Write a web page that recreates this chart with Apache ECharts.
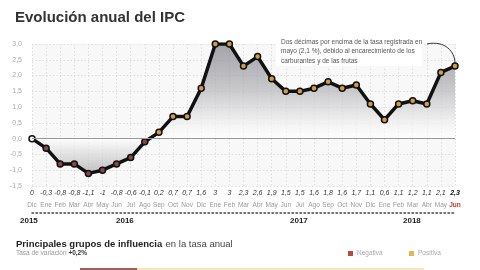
<!DOCTYPE html>
<html>
<head>
<meta charset="utf-8">
<script src="https://cdn.jsdelivr.net/npm/echarts@6/dist/echarts.min.js"></script>
<style>
html,body{margin:0;padding:0;background:#fff;}
#chart{width:480px;height:270px;}
</style>
</head>
<body>
<div id="chart"></div>
<script>
// meses (Dic 2015 - Jun 2018)
var months = ['Dic','Ene','Feb','Mar','Abr','May','Jun','Jul','Ago','Sep','Oct','Nov','Dic',
  'Ene','Feb','Mar','Abr','May','Jun','Jul','Ago','Sep','Oct','Nov','Dic',
  'Ene','Feb','Mar','Abr','May','Jun'];
var ipc = [0,-0.3,-0.8,-0.8,-1.1,-1,-0.8,-0.6,-0.1,0.2,0.7,0.7,1.6,
  3,3,2.3,2.6,1.9,1.5,1.5,1.6,1.8,1.6,1.7,1.1,
  0.6,1.1,1.2,1.1,2.1,2.3];
var years = ['2015','2016','2017','2018'];

var font = '"Liberation Sans", Arial, sans-serif';
var last = ipc.length - 1;

function fmt(v){ return String(v).replace('.', ','); }

var pts = ipc.map(function(v, i){
  var c = v < 0 ? '#8a4644' : (v > 0 ? '#d39a48' : '#ffffff');
  return {value: v, itemStyle: {color: c}};
});

var myChart = echarts.init(document.getElementById('chart'));
var option = {
  backgroundColor: '#fff',
  animation: false,
  textStyle: {fontFamily: font},
  grid: {left: 32, right: 25, top: 44, bottom: 84, show: true, backgroundColor: '#f8f8f8', borderWidth: 0},
  xAxis: [{
    type: 'category',
    data: months,
    boundaryGap: false,
    axisLine: {show: false, onZero: false},
    axisTick: {show: false},
    splitLine: {show: true, lineStyle: {color: '#dedede', type: [1.5, 2], width: 1}},
    axisLabel: {
      interval: 0,
      margin: 1,
      formatter: function(m, i){
        var v = fmt(ipc[i]);
        if (i === last) return '{vb|' + v + '}\n{mr|' + m + '}';
        return '{v|' + v + '}\n{m|' + m + '}';
      },
      rich: {
        v: {fontSize: 7, fontStyle: 'italic', color: '#333', lineHeight: 12, fontFamily: font},
        vb: {fontSize: 7, fontStyle: 'italic', fontWeight: 'bold', color: '#111', lineHeight: 12, fontFamily: font},
        m: {fontSize: 6.5, color: '#999', lineHeight: 12, fontFamily: font},
        mr: {fontSize: 6.5, color: '#c0392b', fontWeight: 'bold', lineHeight: 12, fontFamily: font}
      }
    }
  }, {
    type: 'category',
    data: months,
    boundaryGap: false,
    position: 'bottom',
    offset: 27,
    axisLine: {show: true, onZero: false, lineStyle: {color: '#444', width: 1.5, type: [1.5, 2.5]}},
    axisTick: {show: false},
    axisLabel: {show: false},
    splitLine: {show: false}
  }],
  yAxis: {
    type: 'value',
    min: -1.5,
    max: 3,
    interval: 0.5,
    axisLine: {show: false},
    axisTick: {show: false},
    splitLine: {show: true, lineStyle: {color: '#dedede', type: [1.5, 2], width: 1}},
    axisLabel: {
      margin: 10,
      fontSize: 7,
      color: '#aaa',
      fontFamily: font,
      formatter: function(v){ return v.toFixed(1).replace('.', ','); }
    }
  },
  series: [{
    type: 'line',
    data: pts,
    symbol: 'circle',
    symbolSize: 6,
    lineStyle: {color: '#111', width: 3.5},
    itemStyle: {borderColor: '#111', borderWidth: 1.5},
    areaStyle: {
      color: new echarts.graphic.LinearGradient(0, 0, 0, 1, [
        {offset: 0, color: '#7e7e86'},
        {offset: 0.35, color: '#b4b4b8'},
        {offset: 0.62, color: '#f2f2f2'},
        {offset: 0.73, color: '#ffffff'},
        {offset: 1, color: '#a8a8aa'}
      ])
    },
    markLine: {
      silent: true,
      symbol: 'none',
      label: {show: false},
      lineStyle: {color: '#999', type: 'solid', width: 1},
      data: [{yAxis: 0}]
    },
    z: 3
  }],
  graphic: [
    {type: 'text', left: 15, top: 10, style: {text: 'Evolución anual del IPC', font: 'bold 15px ' + font, fill: '#333'}},
    {type: 'rect', left: 276, top: 36, shape: {width: 146, height: 30}, style: {fill: '#fff'}, z: 10},
    {type: 'text', left: 281, top: 37, z: 11, style: {
      text: 'Dos décimas por encima de la tasa registrada en\nmayo (2,1 %), debido al encarecimiento de los\ncarburantes y de las frutas',
      font: '6.5px ' + font, fill: '#555', lineHeight: 9.5}},
    {type: 'bezierCurve', z: 11, shape: {x1: 427, y1: 44, cpx1: 445, cpy1: 40, cpx2: 455, cpy2: 52, x2: 455, y2: 63},
      style: {stroke: '#333', lineWidth: 1, fill: null}},
    {type: 'text', left: 20, top: 217, style: {text: years[0], font: 'bold 8px ' + font, fill: '#222'}},
    {type: 'text', left: 116, top: 217, style: {text: years[1], font: 'bold 8px ' + font, fill: '#222'}},
    {type: 'text', left: 290, top: 217, style: {text: years[2], font: 'bold 8px ' + font, fill: '#222'}},
    {type: 'text', left: 403, top: 217, style: {text: years[3], font: 'bold 8px ' + font, fill: '#222'}},
    {type: 'text', left: 16, top: 238, style: {
      text: '{b|Principales grupos de influencia} {n|en la tasa anual}',
      rich: {b: {font: 'bold 9.5px ' + font, fill: '#222'}, n: {font: '9.5px ' + font, fill: '#444'}}}},
    {type: 'text', left: 16, top: 250, style: {
      text: '{n|Tasa de variación }{b|+0,2%}',
      rich: {n: {font: '6.5px ' + font, fill: '#999'}, b: {font: 'bold 6.5px ' + font, fill: '#333'}}}},
    {type: 'rect', left: 348, top: 251, shape: {width: 5, height: 5}, style: {fill: '#b84a3e'}},
    {type: 'text', left: 357, top: 250, style: {text: 'Negativa', font: '6.5px ' + font, fill: '#aaa'}},
    {type: 'rect', left: 409, top: 251, shape: {width: 5, height: 5}, style: {fill: '#e8b64e'}},
    {type: 'text', left: 418, top: 250, style: {text: 'Positiva', font: '6.5px ' + font, fill: '#aaa'}},
    {type: 'rect', left: 80, top: 268, shape: {width: 57, height: 2}, style: {fill: '#a0605a'}},
    {type: 'rect', left: 137, top: 268, shape: {width: 287, height: 2}, style: {fill: '#f3e6b8'}}
  ]
};
myChart.setOption(option);
</script>
</body>
</html>
